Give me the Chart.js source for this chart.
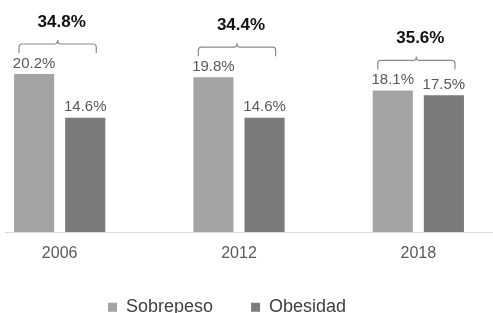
<!DOCTYPE html>
<html>
<head>
<meta charset="utf-8">
<script src="https://cdn.jsdelivr.net/npm/chart.js@4.4.0/dist/chart.umd.min.js"></script>
<style>
html, body { margin: 0; padding: 0; background: #fff; overflow: hidden; width: 493px; height: 313px; }
/* the original picture is cropped on both sides, so the canvas is a bit wider than the window */
#wrap { position: absolute; left: -30px; top: 0; width: 538px; height: 342px; }
</style>
</head>
<body>
<div id="wrap"><canvas id="obesity_chart"></canvas></div>
<script>
var years = ['2006', '2012', '2018'];
var sobrepeso = [20.2, 19.8, 18.1];
var obesidad = [14.6, 14.6, 17.5];

var FONT = '"Liberation Sans", Arial, sans-serif';

// baseline drawn by hand so it starts a bit inside the left edge like the original
var baseLine = {
  id: 'baseLine',
  beforeDatasetsDraw: function(chart) {
    var ctx = chart.ctx;
    var y = Math.round(chart.scales.y.getPixelForValue(0)) + 0.5;
    ctx.save();
    ctx.strokeStyle = '#d9d9d9';
    ctx.lineWidth = 1;
    ctx.beginPath();
    ctx.moveTo(35, y);
    ctx.lineTo(chart.width, y);
    ctx.stroke();
    ctx.restore();
  }
};

// put the legend where the original has it (left of centre, partly cut at the bottom)
var legendPlace = {
  id: 'legendPlace',
  afterLayout: function(chart) {
    var lg = chart.legend;
    if (!lg || !lg.lineWidths) return;
    var pad = lg.options.labels.padding;
    var w = lg.right - lg.left;
    var h = lg.bottom - lg.top;
    lg.left = 138 - (w + pad - lg.lineWidths[0]) / 2;
    lg.right = lg.left + w;
    lg.top = 309 - pad - 10.8;
    lg.bottom = lg.top + h;
  }
};

// value labels over bars + brace with the total of each year
var barLabels = {
  id: 'barLabels',
  afterDatasetsDraw: function(chart) {
    var ctx = chart.ctx;
    var m0 = chart.getDatasetMeta(0), m1 = chart.getDatasetMeta(1);
    ctx.save();
    ctx.font = '15px ' + FONT;
    ctx.fillStyle = '#595959';
    ctx.textAlign = 'center';
    ctx.textBaseline = 'bottom';
    [m0, m1].forEach(function(meta, d) {
      meta.data.forEach(function(bar, i) {
        var v = chart.data.datasets[d].data[i];
        ctx.fillText(v.toFixed(1) + '%', bar.x, bar.y - 3);
      });
    });

    years.forEach(function(yr, i) {
      var b0 = m0.data[i], b1 = m1.data[i];
      var left = b0.x - b0.width / 2 + 5;
      var right = b1.x + b1.width / 2 - 9;
      var cx = (left + right) / 2;
      var y = Math.min(b0.y, b1.y) - 30;
      ctx.strokeStyle = '#8a8a8a';
      ctx.lineWidth = 1.2;
      ctx.beginPath();
      ctx.moveTo(left, y + 9);
      ctx.lineTo(left, y + 3);
      ctx.quadraticCurveTo(left, y, left + 3, y);
      ctx.lineTo(cx - 3, y);
      ctx.quadraticCurveTo(cx, y, cx, y - 4);
      ctx.quadraticCurveTo(cx, y, cx + 3, y);
      ctx.lineTo(right - 3, y);
      ctx.quadraticCurveTo(right, y, right, y + 3);
      ctx.lineTo(right, y + 9);
      ctx.stroke();

      var total = sobrepeso[i] + obesidad[i];
      ctx.font = 'bold 17px ' + FONT;
      ctx.fillStyle = '#111';
      ctx.textBaseline = 'middle';
      ctx.fillText(total.toFixed(1) + '%', cx + 4, y - 22);
    });
    ctx.restore();
  }
};

var chart = new Chart('obesity_chart', {
  type: 'bar',
  data: {
    labels: years,
    datasets: [{
      label: 'Sobrepeso',
      data: sobrepeso,
      backgroundColor: '#a4a4a4',
      categoryPercentage: 0.57,
      barPercentage: 0.785
    }, {
      label: 'Obesidad',
      data: obesidad,
      backgroundColor: '#7b7b7b',
      categoryPercentage: 0.57,
      barPercentage: 0.785
    }]
  },
  options: {
    responsive: true,
    maintainAspectRatio: false,
    animation: false,
    layout: { padding: { left: 0, right: 0, top: 13, bottom: 0 } },
    scales: {
      x: {
        grid: { display: false, drawTicks: false },
        border: { display: false },
        ticks: {
          color: '#595959',
          padding: 13,
          font: { family: FONT, size: 16, lineHeight: 1.125 }
        }
      },
      y: {
        display: false,
        min: 0,
        max: 28
      }
    },
    plugins: {
      tooltip: { enabled: false },
      legend: {
        position: 'bottom',
        labels: {
          color: '#404040',
          boxWidth: 9,
          boxHeight: 9,
          padding: 38,
          font: { family: FONT, size: 18 }
        }
      }
    }
  },
  plugins: [baseLine, legendPlace, barLabels]
});
</script>
</body>
</html>
